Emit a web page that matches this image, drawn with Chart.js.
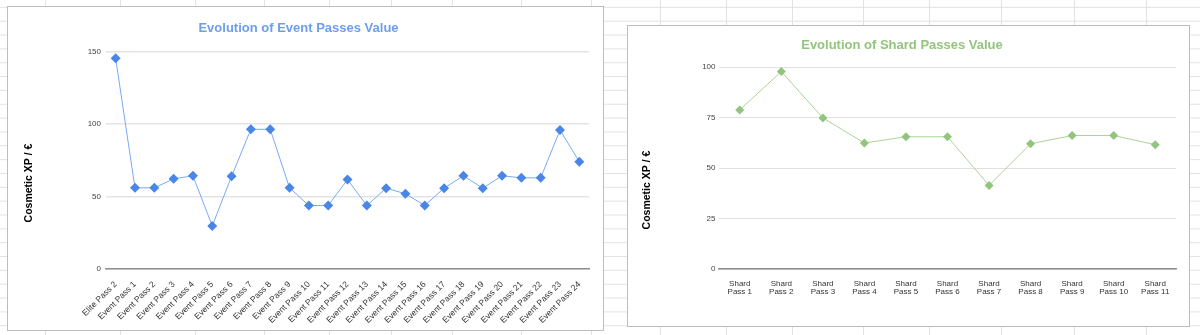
<!DOCTYPE html>
<html>
<head>
<meta charset="utf-8">
<script src="https://cdn.jsdelivr.net/npm/chart.js@4.4.1/dist/chart.umd.min.js"></script>
<style>
  html, body {
    margin: 0;
    padding: 0;
  }
  body {
    width: 1200px;
    height: 335px;
    position: relative;
    overflow: hidden;
    background-color: #fff;
    background-image: linear-gradient(#e2e2e2 1px, transparent 1px);
    background-size: 100% 13.85px;
    background-position: 0 6.85px;
    font-family: "Liberation Sans", Arial, sans-serif;
  }
  .col {
    position: absolute;
    top: 0;
    width: 1px;
    height: 335px;
    background: #e2e2e2;
  }
  .card {
    position: absolute;
    background: #fff;
    border: 1px solid #bdbdbd;
  }
  #eventCard {
    left: 7px;
    top: 6px;
    width: 595px;
    height: 323px;
  }
  #shardCard {
    left: 627px;
    top: 25px;
    width: 561px;
    height: 300px;
  }
  canvas {
    display: block;
  }
</style>
</head>
<body>
<div class="card" id="eventCard"><canvas id="eventChart" width="595" height="323"></canvas></div>
<div class="card" id="shardCard"><canvas id="shardChart" width="561" height="300"></canvas></div>

<script>
// Event passes
const eventLabels = [
  "Elite Pass 2", "Event Pass 1", "Event Pass 2", "Event Pass 3", "Event Pass 4",
  "Event Pass 5", "Event Pass 6", "Event Pass 7", "Event Pass 8", "Event Pass 9",
  "Event Pass 10", "Event Pass 11", "Event Pass 12", "Event Pass 13", "Event Pass 14",
  "Event Pass 15", "Event Pass 16", "Event Pass 17", "Event Pass 18", "Event Pass 19",
  "Event Pass 20", "Event Pass 21", "Event Pass 22", "Event Pass 23", "Event Pass 24",
];
const eventValues = [
  145.4, 56, 56, 62.2, 64.3, 29.7, 64, 96.4, 96.4, 56,
  43.8, 43.8, 61.7, 43.8, 55.8, 51.9, 43.8, 55.8, 64.3, 55.8,
  64.3, 62.9, 62.9, 95.9, 74,
];
const eventTicks = [0, 50, 100, 150];

// Shard passes
const shardLabels = [
  "Shard Pass 1", "Shard Pass 2", "Shard Pass 3", "Shard Pass 4", "Shard Pass 5",
  "Shard Pass 6", "Shard Pass 7", "Shard Pass 8", "Shard Pass 9", "Shard Pass 10",
  "Shard Pass 11",
];
const shardValues = [78.8, 97.8, 74.8, 62.4, 65.5, 65.5, 41.4, 62, 66.1, 66.1, 61.6];
const shardTicks = [0, 25, 50, 75, 100];

const yAxisTitle = "Cosmetic XP / €";

// spreadsheet column lines behind the charts
const sheetColumns = [45, 120, 195, 264, 329, 391, 452, 521, 591, 660, 726, 792, 863, 929, 1001, 1074, 1146];
sheetColumns.forEach((x) => {
  const d = document.createElement("div");
  d.className = "col";
  d.style.left = x + "px";
  document.body.insertBefore(d, document.body.firstChild);
});

Chart.defaults.font.family = "'Liberation Sans', Arial, sans-serif";
Chart.defaults.animation = false;

/**
 * Vertical axis title drawn at a fixed spot
 */
const axisTitle = {
  id: "axisTitle",
  afterDraw(chart, args, opts) {
    const ctx = chart.ctx;
    ctx.save();
    ctx.translate(opts.x, opts.y);
    ctx.rotate(-Math.PI / 2);
    ctx.font = "bold 10.5px 'Liberation Sans', Arial, sans-serif";
    ctx.fillStyle = "#000";
    ctx.textAlign = "center";
    ctx.textBaseline = "middle";
    ctx.fillText(opts.text, 0, 0);
    ctx.restore();
  },
};

function buildChart(canvasId, cfg) {
  return new Chart(document.getElementById(canvasId), {
    type: "line",
    data: {
      labels: cfg.labels,
      datasets: [
        {
          data: cfg.values,
          borderColor: cfg.lineColor,
          borderWidth: 1,
          pointStyle: "rectRot",
          pointRadius: cfg.pointRadius,
          pointBackgroundColor: cfg.pointColor,
          pointBorderWidth: 0,
          tension: 0,
        },
      ],
    },
    options: {
      responsive: false,
      devicePixelRatio: 1,
      layout: {
        padding: { left: 0, right: cfg.padRight, top: 0, bottom: 0 },
      },
      plugins: {
        legend: { display: false },
        tooltip: { enabled: false },
        title: {
          display: true,
          text: cfg.title,
          color: cfg.titleColor,
          font: { size: 13, weight: "bold" },
          padding: cfg.titlePadding,
        },
        axisTitle: { text: yAxisTitle, x: cfg.yTitleX, y: cfg.yTitleY },
      },
      scales: {
        x: {
          offset: true,
          grid: { display: false },
          border: { display: true, color: "#8f8f8f", width: 1.5 },
          ticks: {
            autoSkip: false,
            maxRotation: cfg.rotation,
            minRotation: cfg.rotation,
            padding: 3,
            color: "#333",
            font: { size: cfg.xFontSize, lineHeight: 1.0 },
          },
          afterFit: (scale) => {
            scale.height = cfg.xHeight;
          },
        },
        y: {
          min: 0,
          max: cfg.ticks[cfg.ticks.length - 1],
          afterBuildTicks: (scale) => {
            scale.ticks = cfg.ticks.map((v) => ({ value: v }));
          },
          grid: { color: cfg.gridColor, lineWidth: cfg.gridWidth, drawTicks: false },
          border: { display: false },
          ticks: {
            padding: cfg.yTickPad,
            color: "#444",
            font: { size: 8 },
          },
          afterFit: (scale) => {
            scale.width = cfg.yWidth;
          },
        },
      },
    },
    plugins: [axisTitle],
  });
}

document.addEventListener("DOMContentLoaded", () => {
  buildChart("eventChart", {
    labels: eventLabels,
    values: eventValues,
    ticks: eventTicks,
    title: "Evolution of Event Passes Value",
    titleColor: "#6d9eeb",
    titlePadding: { top: 14, bottom: 15 },
    lineColor: "#7aa9f5",
    pointColor: "#4a86e8",
    pointRadius: 5,
    padRight: 14,
    rotation: 45,
    xFontSize: 8.5,
    xHeight: 61,
    yWidth: 98,
    yTickPad: 5,
    yTitleX: 21,
    yTitleY: 176,
    gridColor: "#e4e4e4",
    gridWidth: 1.5,
  });

  buildChart("shardChart", {
    labels: shardLabels.map((l) => {
      const parts = l.split(" ");
      return [parts[0], parts.slice(1).join(" ")];
    }),
    values: shardValues,
    ticks: shardTicks,
    title: "Evolution of Shard Passes Value",
    titleColor: "#93c47d",
    titlePadding: { top: 12, bottom: 13.5 },
    lineColor: "#acd396",
    pointColor: "#93c47d",
    pointRadius: 4.5,
    padRight: 13,
    rotation: 0,
    xFontSize: 8,
    xHeight: 57,
    yWidth: 91,
    yTickPad: 3.5,
    yTitleX: 19,
    yTitleY: 164,
    gridColor: "#e0e0e0",
    gridWidth: 1,
  });
});
</script>
</body>
</html>
